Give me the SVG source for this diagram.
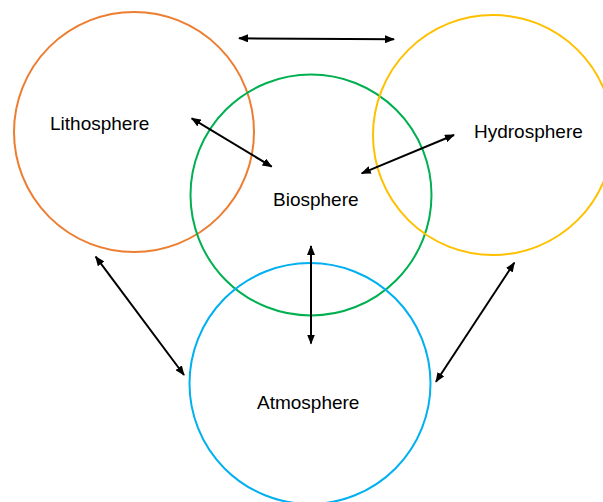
<svg xmlns="http://www.w3.org/2000/svg" width="603" height="502" viewBox="0 0 603 502">
  <style>
    .sphere { fill: none; stroke-width: 2; }
    .label { font-family: "Liberation Sans", Arial, sans-serif; font-size: 19px; fill: #000; }
    .link { stroke: #000; stroke-width: 2; fill: none; marker-start: url(#head); marker-end: url(#head); }
  </style>
  <defs>
    <marker id="head" viewBox="0 0 10 8" refX="9" refY="4" markerWidth="10" markerHeight="8" markerUnits="userSpaceOnUse" orient="auto-start-reverse">
      <path d="M0,0 L10,4 L0,8 z" fill="#000"/>
    </marker>
  </defs>
  <rect width="603" height="502" fill="#fff"/>

  <g id="lithosphere">
    <circle class="sphere" cx="134" cy="132" r="120" stroke="#ED7D31"/>
    <text class="label" x="50" y="130">Lithosphere</text>
  </g>
  <g id="biosphere">
    <circle class="sphere" cx="311" cy="195" r="120.5" stroke="#00B050"/>
    <text class="label" x="273" y="206">Biosphere</text>
  </g>
  <g id="hydrosphere">
    <circle class="sphere" cx="493" cy="135" r="120" stroke="#FFC000"/>
    <text class="label" x="474" y="138">Hydrosphere</text>
  </g>
  <g id="atmosphere">
    <circle class="sphere" cx="310" cy="383.5" r="120.5" stroke="#00B0F0"/>
    <text class="label" x="257" y="409">Atmosphere</text>
  </g>

  <g id="connectors">
    <line class="link" x1="239" y1="38.3" x2="394" y2="39.3"/>
    <line class="link" x1="191.7" y1="118.3" x2="271.7" y2="166.7"/>
    <line class="link" x1="361.7" y1="173.3" x2="454" y2="135"/>
    <line class="link" x1="311" y1="246" x2="311" y2="343.5"/>
    <line class="link" x1="95.7" y1="256.7" x2="184" y2="375"/>
    <line class="link" x1="514.3" y1="262.7" x2="436" y2="381.7"/>
  </g>
</svg>
